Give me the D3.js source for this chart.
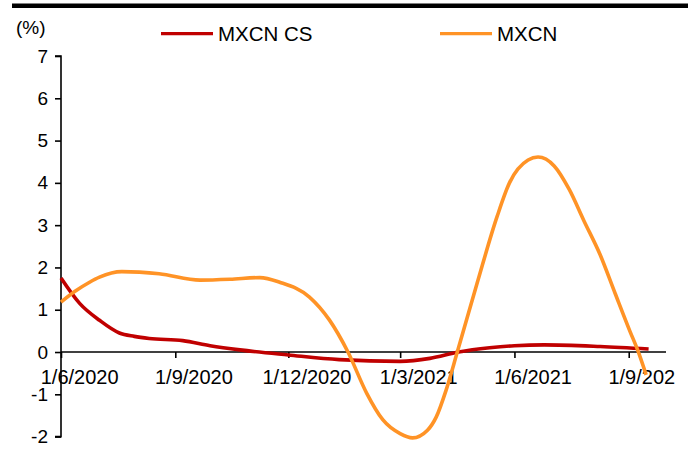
<!DOCTYPE html>
<html>
<head>
<meta charset="utf-8">
<script src="https://cdn.jsdelivr.net/npm/d3@7"></script>
<style>
  html, body { margin: 0; padding: 0; background: #fff; }
  svg { display: block; font-family: Arial, "Liberation Sans", sans-serif; }
</style>
</head>
<body>
<svg id="chart" width="690" height="455"></svg>
<script>
// Return series (%) read at irregular dates
const csDates = ["2020-06-01","2020-06-16","2020-07-02","2020-07-18","2020-07-30","2020-08-11","2020-09-07","2020-09-29","2020-10-23","2020-12-01","2021-01-11","2021-03-01","2021-03-25","2021-04-17","2021-05-12","2021-06-01","2021-06-25","2021-08-09","2021-09-17"];
const csValues = [1.75, 1.15, 0.75, 0.45, 0.37, 0.32, 0.27, 0.15, 0.05, -0.07, -0.18, -0.22, -0.15, 0.0, 0.10, 0.15, 0.17, 0.13, 0.07];

const cnDates = ["2020-06-01","2020-06-12","2020-06-24","2020-07-02","2020-07-20","2020-08-19","2020-09-21","2020-10-15","2020-11-08","2020-11-24","2020-12-18","2021-01-03","2021-01-18","2021-02-02","2021-02-15","2021-03-01","2021-03-11","2021-03-23","2021-03-30","2021-04-07","2021-04-16","2021-05-02","2021-05-18","2021-05-28","2021-06-12","2021-06-20","2021-07-03","2021-07-15","2021-07-27","2021-08-09","2021-08-21","2021-09-02","2021-09-08","2021-09-15"];
const cnValues = [1.18, 1.43, 1.65, 1.77, 1.90, 1.85, 1.70, 1.72, 1.76, 1.65, 1.30, 0.76, 0.0, -0.97, -1.6, -1.93, -2.03, -1.85, -1.54, -0.9, 0.0, 1.63, 3.2, 4.0, 4.54, 4.61, 4.4, 3.85, 3.1, 2.3, 1.39, 0.49, 0.06, -0.54];

const seriesNames = ["MXCN CS", "MXCN"];
const seriesColors = ["#C00000", "#FF9326"];

const yTicks = [-2, -1, 0, 1, 2, 3, 4, 5, 6, 7];
const xTickDates = ["2020-06-01","2020-09-01","2020-12-01","2021-03-01","2021-06-01","2021-09-01"];
const xTickLabels = ["1/6/2020","1/9/2020","1/12/2020","1/3/2021","1/6/2021","1/9/2021"];

const parse = d3.utcParse("%Y-%m-%d");
const svg = d3.select("#chart");

const x = d3.scaleUtc()
  .domain([parse("2020-06-01"), parse("2021-10-01")])
  .range([61, 666]);
const y = d3.scaleLinear().domain([-2, 7]).range([436.6, 56]);

// top rule
svg.append("rect").attr("x", 12).attr("y", 3.5).attr("width", 676).attr("height", 4.5).attr("fill", "#000");

// unit label
svg.append("text").attr("x", 16).attr("y", 34).attr("font-size", 19).text("(%)");

// legend
const legendX = [161, 440];
seriesNames.forEach((name, i) => {
  const g = svg.append("g");
  g.append("line")
    .attr("x1", legendX[i]).attr("x2", legendX[i] + 52)
    .attr("y1", 33.7).attr("y2", 33.7)
    .attr("stroke", seriesColors[i]).attr("stroke-width", 3.2);
  g.append("text")
    .attr("x", legendX[i] + 57).attr("y", 40.5)
    .attr("font-size", 20.5).text(name);
});

// y axis
const yAxis = d3.axisLeft(y).tickValues(yTicks).tickSize(6).tickPadding(7).tickFormat(d => String(d));
const gy = svg.append("g").attr("transform", "translate(61,0)").call(yAxis);
gy.select(".domain").attr("stroke", "#000").attr("stroke-width", 1.6).attr("d", `M-6,${y(7)}H0V${y(-2)}H-6`);
gy.selectAll(".tick line").attr("stroke", "#000").attr("stroke-width", 1.6);
gy.selectAll(".tick text").attr("font-size", 19).attr("fill", "#000").attr("font-family", "Arial, 'Liberation Sans', sans-serif");

// x axis at zero
const gx = svg.append("g").attr("transform", `translate(0,${y(0)})`)
  .call(d3.axisBottom(x).tickValues(xTickDates.map(parse)).tickSize(6).tickFormat(""));
gx.select(".domain").attr("stroke", "#000").attr("stroke-width", 1.6).attr("d", `M${x.range()[0]},0H${x.range()[1]}`);
gx.selectAll(".tick line").attr("stroke", "#000").attr("stroke-width", 1.6);

// month labels centred inside each labelled month
svg.append("clipPath").attr("id", "lblClip")
  .append("rect").attr("x", 0).attr("y", 0).attr("width", 676).attr("height", 455);
const midMonth = d => d3.utcDay.offset(d, 15);
svg.append("g").attr("clip-path", "url(#lblClip)")
  .selectAll("text").data(xTickDates).join("text")
  .attr("x", d => x(midMonth(parse(d))))
  .attr("y", 384)
  .attr("text-anchor", "middle")
  .attr("font-size", 20)
  .text((d, i) => xTickLabels[i]);

// series lines
const line = d3.line()
  .x(d => x(d.date))
  .y(d => y(d.value))
  .curve(d3.curveMonotoneX);

const series = [
  csDates.map((d, i) => ({ date: parse(d), value: csValues[i] })),
  cnDates.map((d, i) => ({ date: parse(d), value: cnValues[i] }))
];

series.forEach((s, i) => {
  svg.append("path")
    .datum(s)
    .attr("fill", "none")
    .attr("stroke", seriesColors[i])
    .attr("stroke-width", 3.6)
    .attr("stroke-linejoin", "round")
    .attr("d", line);
});
</script>
</body>
</html>
